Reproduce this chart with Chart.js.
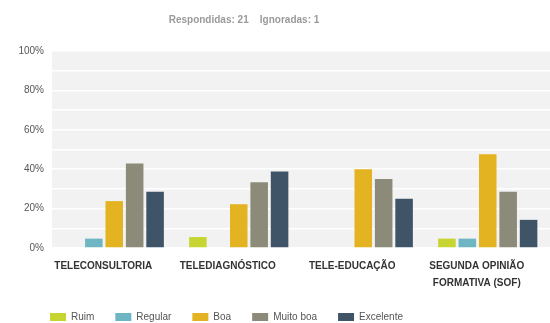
<!DOCTYPE html>
<html>
<head>
<meta charset="utf-8">
<script src="https://cdn.jsdelivr.net/npm/chart.js@4/dist/chart.umd.min.js"></script>
<style>
    body { margin: 0; background: #fff; }
    #wrap { width: 550px; height: 323px; }
</style>
</head>
<body>
<div id="wrap"><canvas id="chart" width="550" height="323"></canvas></div>
<script>
const categories = ['TELECONSULTORIA', 'TELEDIAGNÓSTICO', 'TELE-EDUCAÇÃO', ['SEGUNDA OPINIÃO', 'FORMATIVA (SOF)']];
const ruim = [0, 5.56, 0, 4.76];
const regular = [4.76, 0, 0, 4.76];
const boa = [23.81, 22.22, 40, 47.62];
const muitoBoa = [42.86, 33.33, 35, 28.57];
const excelente = [28.57, 38.89, 25, 14.29];
const summary = 'Respondidas: 21    Ignoradas: 1';

// gray plot background behind the white grid lines
const plotBackground = {
    id: 'plotBackground',
    beforeDraw(chart) {
        const a = chart.chartArea;
        const ctx = chart.ctx;
        ctx.save();
        ctx.fillStyle = '#f2f2f2';
        ctx.fillRect(a.left, a.top, a.right - a.left, a.bottom - a.top);
        ctx.restore();
    }
};

// nudge title and legend, and let the two-line label run below the x axis box
const boxShift = {
    id: 'boxShift',
    afterLayout(chart) {
        chart.titleBlock.left -= 31;
        chart.titleBlock.right -= 31;
        chart.legend.left += 29;
        chart.legend.top += 9;
        chart.scales.x.bottom += 16;
    }
};

function makeSet(label, data, color) {
    return {
        label: label,
        data: data,
        backgroundColor: color,
        borderWidth: 0,
        categoryPercentage: 0.82,
        barPercentage: 0.86
    };
}

let ctx = document.getElementById('chart').getContext('2d');
let myChart = new Chart(ctx, {
    type: 'bar',
    data: {
        labels: categories,
        datasets: [
            makeSet('Ruim', ruim, '#c6d531'),
            makeSet('Regular', regular, '#6fb6c4'),
            makeSet('Boa', boa, '#e3b322'),
            makeSet('Muito boa', muitoBoa, '#8c8b79'),
            makeSet('Excelente', excelente, '#3f5467')
        ]
    },
    options: {
        responsive: false,
        animation: false,
        layout: { padding: 0 },
        plugins: {
            title: {
                display: true,
                text: summary,
                color: '#9a9a9a',
                font: { family: 'Liberation Sans', size: 10, weight: 'bold' },
                padding: { top: 14, bottom: 25 }
            },
            legend: {
                position: 'bottom',
                align: 'start',
                labels: {
                    boxWidth: 16,
                    boxHeight: 8,
                    padding: 21,
                    color: '#555',
                    font: { family: 'Liberation Sans', size: 10 }
                }
            },
            tooltip: { enabled: false }
        },
        scales: {
            x: {
                afterFit(scale) { scale.height = 34; },
                grid: { display: false, drawTicks: false },
                border: { display: false },
                ticks: {
                    color: '#333',
                    padding: 10,
                    labelOffset: -11,
                    maxRotation: 0,
                    font: { family: 'Liberation Sans', size: 10, weight: 'bold', lineHeight: 1.7 }
                }
            },
            y: {
                min: 0,
                max: 100,
                afterFit(scale) { scale.width = 52; },
                grid: { color: '#ffffff', lineWidth: 1.5, drawTicks: false },
                border: { display: false },
                ticks: {
                    stepSize: 10,
                    padding: 8,
                    color: '#555',
                    font: { family: 'Liberation Sans', size: 10 },
                    callback: function (v) { return v % 20 === 0 ? v + '%' : ''; }
                }
            }
        }
    },
    plugins: [plotBackground, boxShift]
});
</script>
</body>
</html>
